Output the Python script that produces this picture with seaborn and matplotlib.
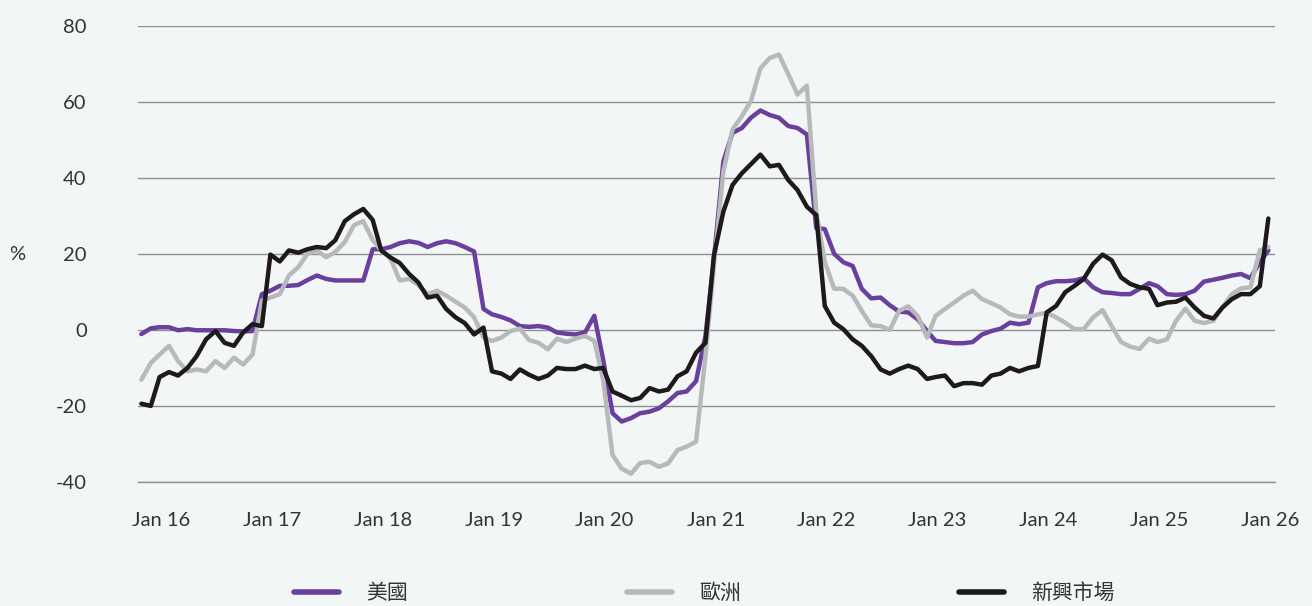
import pandas as pd
import numpy as np
import matplotlib
matplotlib.use('Agg')
import matplotlib.pyplot as plt
import matplotlib.dates as mdates
import matplotlib.transforms as mtransforms
import seaborn as sns

# --- data: monthly, Jan 2016 .. Mar 2026 (%) ---
dates = pd.date_range('2016-01-01', periods=123, freq='MS') + pd.Timedelta(days=11)
series_names = ['美國', '歐洲', '新興市場']

us = [
    -1.0, 0.5, 0.8, 0.8, 0.0, 0.3, 0.0, 0.0, 0.0, 0.0, -0.2, -0.3,
    -0.2, 9.5, 10.4, 11.7, 11.7, 11.9, 13.2, 14.4, 13.5, 13.1, 13.1, 13.1,
    13.1, 21.3, 21.3, 21.9, 22.9, 23.4, 23.0, 21.9, 22.9, 23.4, 22.9, 21.9,
    20.7, 5.6, 4.2, 3.5, 2.6, 1.1, 0.9, 1.1, 0.7, -0.6, -0.9, -1.1,
    -0.6, 3.8, -7.7, -21.8, -24.0, -23.1, -21.8, -21.4, -20.5, -18.7, -16.5, -16.1,
    -13.4, -1.5, 18.8, 44.4, 51.9, 53.2, 55.9, 57.8, 56.6, 55.9, 53.7, 53.2,
    51.5, 26.9, 26.6, 20.1, 17.9, 16.9, 10.9, 8.4, 8.6, 6.6, 4.9, 4.7,
    2.9, -0.2, -2.8, -3.1, -3.4, -3.4, -3.1, -1.1, -0.2, 0.4, 2.0, 1.6,
    2.0, 11.3, 12.4, 12.9, 12.9, 13.1, 13.7, 11.3, 10.0, 9.8, 9.5, 9.5,
    10.9, 12.4, 11.6, 9.5, 9.3, 9.5, 10.4, 12.8, 13.3, 13.8, 14.4, 14.8,
    13.7, 17.9, 21.0,
]

europe = [
    -13.0, -8.6, -6.4, -4.1, -8.1, -10.8, -10.3, -10.8, -8.1, -9.9, -7.2, -9.0,
    -6.4, 7.8, 8.6, 9.5, 14.4, 16.6, 20.1, 21.0, 19.2, 20.6, 23.2, 27.6,
    28.7, 23.7, 21.0, 18.8, 13.1, 13.5, 11.9, 9.5, 10.4, 9.1, 7.5, 6.0,
    3.4, -1.9, -2.8, -1.9, -0.2, 0.4, -2.6, -3.3, -5.0, -2.2, -3.1, -2.2,
    -1.5, -2.8, -13.0, -32.8, -36.4, -37.7, -34.9, -34.6, -35.9, -35.0, -31.5, -30.6,
    -29.3, -6.8, 17.0, 41.7, 52.8, 56.3, 60.3, 68.9, 71.6, 72.5, 67.3, 62.0,
    64.3, 31.2, 18.0, 10.9, 10.9, 9.1, 5.1, 1.3, 1.1, 0.1, 5.1, 6.3,
    3.8, -1.9, 3.8, 5.6, 7.3, 9.1, 10.4, 8.2, 7.1, 6.0, 4.2, 3.6,
    3.6, 4.2, 4.6, 3.4, 2.0, 0.3, 0.3, 3.4, 5.3, 1.1, -3.1, -4.3,
    -4.9, -2.2, -3.1, -2.4, 2.5, 5.7, 2.5, 1.9, 2.5, 6.0, 9.5, 11.0,
    11.3, 21.0, 21.9,
]

em = [
    -19.3, -19.9, -12.3, -11.0, -11.9, -9.9, -6.8, -2.4, -0.2, -3.3, -4.1, -0.6,
    1.6, 1.1, 19.9, 18.1, 21.0, 20.4, 21.3, 21.9, 21.6, 23.7, 28.7, 30.5,
    31.9, 29.0, 21.0, 19.1, 17.7, 14.8, 12.6, 8.6, 9.1, 5.6, 3.4, 1.9,
    -1.1, 0.7, -10.8, -11.4, -12.8, -10.3, -11.7, -12.8, -11.9, -9.9, -10.2, -10.2,
    -9.3, -10.2, -9.9, -16.1, -17.2, -18.4, -17.8, -15.2, -16.1, -15.6, -12.1, -10.8,
    -5.9, -3.3, 19.7, 31.2, 38.2, 41.3, 43.7, 46.2, 43.1, 43.5, 39.5, 36.9,
    32.5, 30.3, 6.4, 2.0, 0.3, -2.4, -4.1, -6.8, -10.3, -11.4, -10.2, -9.3,
    -10.2, -12.8, -12.3, -11.9, -14.7, -13.9, -13.9, -14.3, -11.9, -11.4, -9.9, -10.8,
    -9.9, -9.4, 4.7, 6.4, 10.0, 11.7, 13.5, 17.5, 19.9, 18.4, 13.9, 12.2,
    11.3, 10.9, 6.6, 7.3, 7.5, 8.6, 6.0, 3.8, 3.1, 6.0, 8.2, 9.5,
    9.5, 11.6, 29.4,
]

colors = ['#6a3f9e', '#b7baba', '#1e1a1c']
y_ticks = [-40, -20, 0, 20, 40, 60, 80]

df = pd.DataFrame({
    'date': np.tile(dates, 3),
    'value': us + europe + em,
    'region': np.repeat(series_names, len(dates)),
})

# --- style ---
bg = '#f3f6f7'
sns.set_style('white')
plt.rcParams['font.family'] = ['Lato', 'Noto Sans CJK TC', 'DejaVu Sans']

fig = plt.figure(figsize=(13.12, 6.06), dpi=100, facecolor=bg)
ax = fig.add_axes([0.1052, 0.204, 0.8666, 0.753])
ax.set_facecolor(bg)

sns.lineplot(data=df, x='date', y='value', hue='region', hue_order=series_names,
             palette=colors, linewidth=3.2, ax=ax)

# axes
ax.set_ylim(-40, 80)
ax.set_yticks(y_ticks)
ax.set_yticklabels([str(t) for t in y_ticks])
ax.set_xlim(pd.Timestamp('2016-01-01'), pd.Timestamp('2026-04-03'))
ax.xaxis.set_major_locator(mdates.YearLocator(month=1, day=1))
ax.xaxis.set_major_formatter(mdates.DateFormatter('%b %y'))

ax.yaxis.grid(True, color='#8e8e8e', linewidth=1)
ax.xaxis.grid(False)
ax.set_axisbelow(True)
for s in ['top', 'right', 'left']:
    ax.spines[s].set_visible(False)
ax.spines['bottom'].set_color('#8e8e8e')
ax.spines['bottom'].set_linewidth(1)

ax.tick_params(axis='y', length=3, color='#8e8e8e', pad=34, labelsize=14.5, labelcolor='#333333')
ax.tick_params(axis='x', length=8.5, color='#8e8e8e', pad=13, labelsize=14.5, labelcolor='#333333')

# x labels sit a little to the right of their ticks
offset = mtransforms.ScaledTranslation(0.23, 0, fig.dpi_scale_trans)
for lbl in ax.get_xticklabels():
    lbl.set_transform(lbl.get_transform() + offset)

ax.set_xlabel('')
ax.set_ylabel('%', rotation=0, fontsize=14.5, color='#333333', ha='center', va='center')
ax.yaxis.set_label_coords(-0.106, 0.5)

# legend at the bottom
handles, labels = ax.get_legend_handles_labels()
ax.get_legend().remove()
leg = fig.legend(handles, labels, loc='center', bbox_to_anchor=(0.537, 0.021), ncol=3,
                 frameon=False, handlelength=2.15, handletextpad=1.3, columnspacing=10.5,
                 fontsize=15)
for line in leg.get_lines():
    line.set_linewidth(4)
    line.set_solid_capstyle('round')
for t in leg.get_texts():
    t.set_color('#333333')

fig.savefig('out.png', dpi=100, facecolor=bg)
